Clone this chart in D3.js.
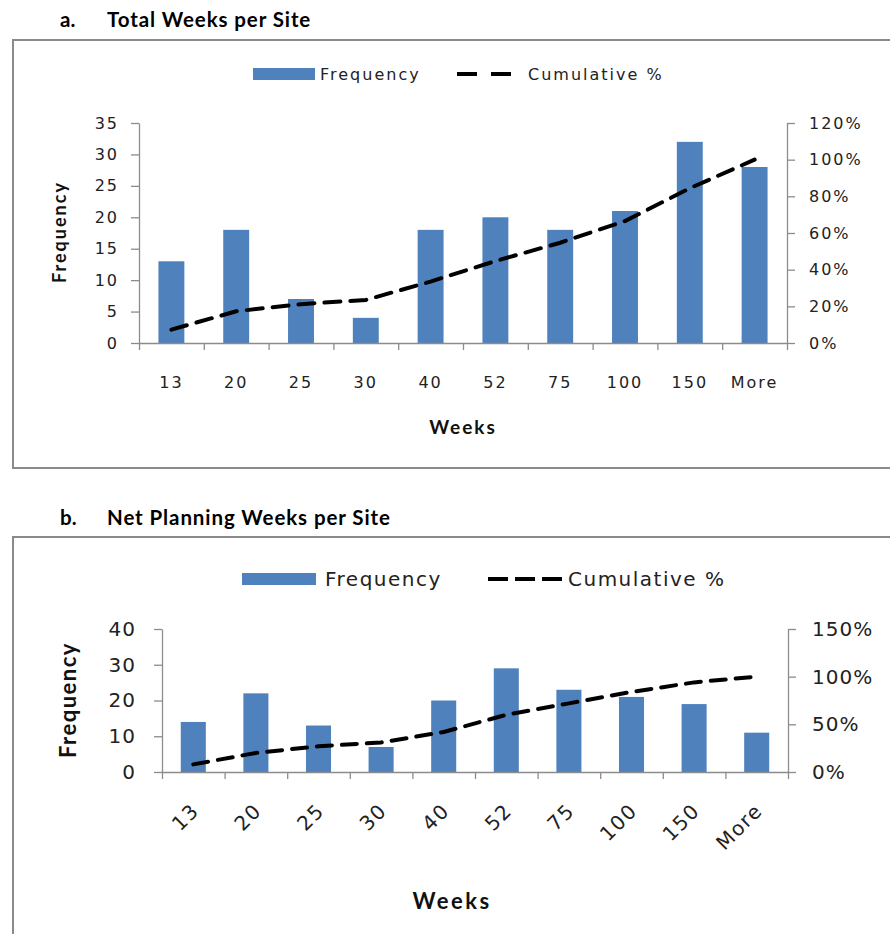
<!DOCTYPE html>
<html><head><meta charset="utf-8">
<script src="https://cdn.jsdelivr.net/npm/d3@7"></script>
<style>
body{margin:0;background:#fff;}
svg{display:block;}
</style></head>
<body>
<svg id="chart" width="890" height="934"></svg>
<script>
// ---- data ----
const categories = ["13","20","25","30","40","52","75","100","150","More"];
const freqA = [13,18,7,4,18,20,18,21,32,28];
const cumA  = [7.3,17.3,21.2,23.5,33.5,44.7,54.7,66.5,84.4,100];
const freqB = [14,22,13,7,20,29,23,21,19,11];
const cumB  = [8,20,27,31,42,60,72,84,94,100];
const ticksFreqA = [0,5,10,15,20,25,30,35];
const ticksPctA  = [0,20,40,60,80,100,120];
const ticksFreqB = [0,10,20,30,40];
const ticksPctB  = [0,50,100,150];
const titleA = "Total Weeks per Site";
const titleB = "Net Planning Weeks per Site";
const legendLabels = ["Frequency","Cumulative %"];
const xTitle = "Weeks";
const yTitle = "Frequency";

const BAR = "#4F81BD", AXIS = "#8c8c8c";
const svg = d3.select("#chart");
const tickFont = "'DejaVu Sans', Verdana, sans-serif";
const boldFont = "Lato, 'Open Sans', sans-serif";

function drawChart(o){
  const g = svg.append("g");
  // heading
  g.append("text").attr("x",o.headX).attr("y",o.headY).text(o.letter)
    .attr("font-family",boldFont).attr("font-weight","bold").attr("font-size",20.5).attr("fill","#000");
  g.append("text").attr("x",o.headX+47).attr("y",o.headY).text(o.title)
    .attr("font-family",boldFont).attr("font-weight","bold").attr("font-size",20.5)
    .attr("letter-spacing",0.9).attr("fill","#000");
  // frame
  g.append("rect").attr("x",o.frame[0]).attr("y",o.frame[1]).attr("width",o.frame[2]).attr("height",o.frame[3])
    .attr("fill","none").attr("stroke","#8a8a8a").attr("stroke-width",2);

  const x = d3.scaleBand().domain(categories).range([o.left,o.right]).paddingInner(0.6).paddingOuter(0.3);
  const xb = d3.scaleLinear().domain([0,categories.length]).range([o.left,o.right]);
  const y = d3.scaleLinear().domain([0,d3.max(o.ticksF)]).range([o.bottom,o.top]);
  const y2 = d3.scaleLinear().domain([0,d3.max(o.ticksP)]).range([o.bottom,o.top]);

  // bars
  g.selectAll("rect.bar").data(o.freq).join("rect").attr("class","bar")
    .attr("x",(d,i)=>x(categories[i])).attr("width",x.bandwidth())
    .attr("y",d=>y(d)).attr("height",d=>o.bottom-y(d)).attr("fill",BAR);

  // axes
  const styleAxis = (sel, fs, ls)=>{
    sel.select(".domain").attr("stroke",AXIS).attr("stroke-width",1.3);
    sel.selectAll(".tick line").attr("stroke",AXIS).attr("stroke-width",1.3);
    sel.selectAll("text").attr("font-family",tickFont).attr("font-size",fs)
      .attr("letter-spacing",ls).attr("fill","#222");
  };
  const ax = g.append("g").attr("transform",`translate(${o.left},0)`)
    .call(d3.axisLeft(y).tickValues(o.ticksF).tickSize(8).tickSizeOuter(0).tickPadding(o.padL));
  styleAxis(ax,o.fs,o.ls);
  const ax2 = g.append("g").attr("transform",`translate(${o.right},0)`)
    .call(d3.axisRight(y2).tickValues(o.ticksP).tickFormat(d=>d+"%").tickSize(8).tickSizeOuter(0).tickPadding(o.padR));
  styleAxis(ax2,o.fs,o.ls);
  const axb = g.append("g").attr("transform",`translate(0,${o.bottom})`)
    .call(d3.axisBottom(xb).tickValues(d3.range(categories.length+1)).tickFormat("").tickSize(7).tickSizeOuter(0));
  styleAxis(axb,o.fs,o.ls);

  // category labels
  const cx = c => x(c)+x.bandwidth()/2;
  const lab = g.selectAll("text.cat").data(categories).join("text").attr("class","cat")
    .text(d=>d).attr("font-family",tickFont).attr("font-size",o.fs).attr("letter-spacing",o.catLs).attr("fill","#222");
  if(o.rotate){
    lab.attr("text-anchor","end")
      .attr("transform",d=>`translate(${cx(d)+o.rotDx},${o.catY}) rotate(-45)`);
  } else {
    lab.attr("text-anchor","middle").attr("x",cx).attr("y",o.catY);
  }

  // cumulative line
  const line = d3.line().x((d,i)=>cx(categories[i])).y(d=>y2(d));
  g.append("path").datum(o.cum).attr("d",line).attr("fill","none").attr("stroke","#000")
    .attr("stroke-width",4).attr("stroke-dasharray",o.dash).attr("stroke-linecap","round");

  // axis titles
  g.append("text").attr("x",o.xTitleX).attr("y",o.xTitleY).attr("text-anchor","middle")
    .text(xTitle).attr("font-family",boldFont).attr("font-weight","bold").attr("font-size",o.xTitleFs)
    .attr("letter-spacing",o.xTitleLs).attr("fill","#111");
  g.append("text").attr("transform",`translate(${o.yTitleX},${o.yTitleY}) rotate(-90)`)
    .attr("text-anchor","middle").text(yTitle)
    .attr("font-family",boldFont).attr("font-weight","bold").attr("font-size",o.yTitleFs)
    .attr("letter-spacing",o.yTitleLs).attr("fill","#111");

  // legend
  const L = o.legend;
  g.append("rect").attr("x",L.sx).attr("y",L.y-L.sh/2).attr("width",L.sw).attr("height",L.sh).attr("fill",BAR);
  g.append("text").attr("x",L.tx1).attr("y",L.y).attr("dy","0.36em").text(legendLabels[0])
    .attr("font-family",tickFont).attr("font-size",L.fs).attr("letter-spacing",L.ls).attr("fill","#222");
  g.append("line").attr("x1",L.lx1).attr("x2",L.lx2).attr("y1",L.y).attr("y2",L.y)
    .attr("stroke","#000").attr("stroke-width",4).attr("stroke-dasharray",L.dash);
  g.append("text").attr("x",L.tx2).attr("y",L.y).attr("dy","0.36em").text(legendLabels[1])
    .attr("font-family",tickFont).attr("font-size",L.fs).attr("letter-spacing",L.ls).attr("fill","#222");
}

drawChart({
  letter:"a.", title:titleA, headX:60, headY:27, frame:[13,40,900,428],
  left:139, right:787, top:123, bottom:343,
  freq:freqA, cum:cumA, ticksF:ticksFreqA, ticksP:ticksPctA,
  fs:16, ls:2, catLs:2, padL:12, padR:14, catY:388, rotate:false,
  xTitleX:463, xTitleY:434, xTitleFs:19, xTitleLs:2,
  yTitleX:66, yTitleY:232, yTitleFs:18, yTitleLs:2, dash:"16,10",
  legend:{y:74, sx:253, sw:62, sh:12, tx1:320, lx1:457, lx2:515, tx2:528, fs:16, ls:2, dash:"20,14"}
});
drawChart({
  letter:"b.", title:titleB, headX:60, headY:525, frame:[13,537,900,420],
  left:162, right:788, top:629, bottom:772,
  freq:freqB, cum:cumB, ticksF:ticksFreqB, ticksP:ticksPctB,
  fs:20, ls:1, catLs:1.5, padL:18, padR:16, catY:812, rotate:true, rotDx:7,
  xTitleX:452, xTitleY:909, xTitleFs:22, xTitleLs:2.5,
  yTitleX:76, yTitleY:700, yTitleFs:22, yTitleLs:1.5, dash:"15,10",
  legend:{y:579, sx:242, sw:74, sh:12, tx1:325, lx1:488, lx2:562, tx2:568, fs:20, ls:1.5, dash:"20,7"}
});
</script>
</body></html>
